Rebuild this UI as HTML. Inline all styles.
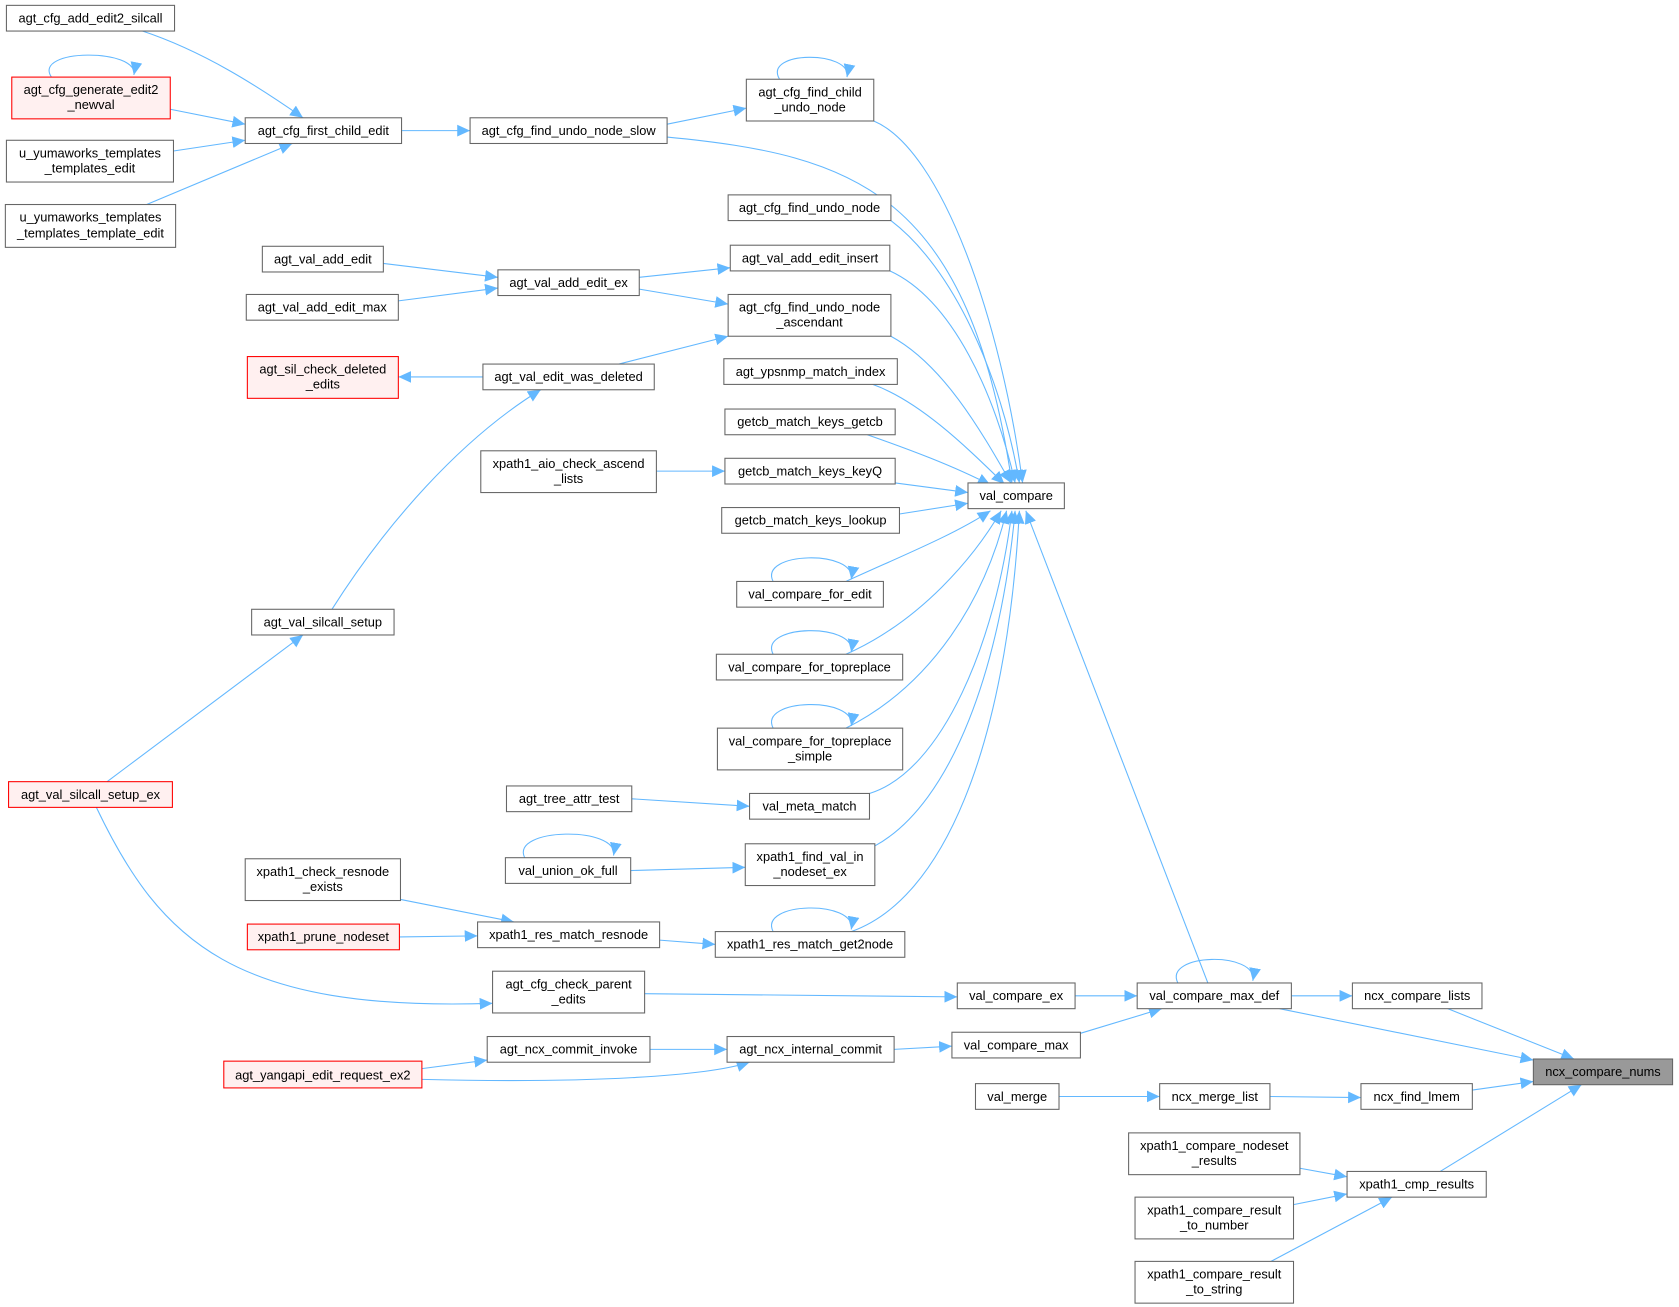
<!DOCTYPE html>
<html><head><meta charset="utf-8"><style>html,body{margin:0;padding:0;background:#fff}svg{display:block}</style></head><body>
<svg width="1679" height="1307" viewBox="0 0 1568 1220.6" xmlns="http://www.w3.org/2000/svg" font-family="Liberation Sans, Arial, sans-serif" font-size="12">
<defs><marker id="a" markerUnits="userSpaceOnUse" markerWidth="13" markerHeight="11" refX="12" refY="5.5" orient="auto"><path d="M0,0 L12,5.5 L0,11 z" fill="#63b8ff"/></marker></defs>
<g fill="none" stroke="#63b8ff" stroke-width="1" marker-end="url(#a)">
<path d="M133,29 C190,48 240,80 283,110"/>
<path d="M159,102 L229,116"/>
<path d="M162,141 L229,131"/>
<path d="M137,191 L273,134"/>
<path d="M48,72 C30,45 130,45 125,70"/>
<path d="M375,122 L439,122"/>
<path d="M623,116 L697,101"/>
<path d="M623,128 C800,145 905,180 945,451"/>
<path d="M728,74 C712,47 796,47 791,72"/>
<path d="M816,113 C880,140 935,300 955,451"/>
<path d="M832,206 C890,250 935,350 952,451"/>
<path d="M831,253 C890,280 930,370 948,451"/>
<path d="M832,314 C880,340 915,400 944,451"/>
<path d="M815,359 C860,375 905,420 938,452"/>
<path d="M810,406 C850,420 890,435 925,453"/>
<path d="M836,451 L904,460"/>
<path d="M840,480 L904,470"/>
<path d="M358,246 L465,259"/>
<path d="M372,281 L465,269"/>
<path d="M597,259 L682,250"/>
<path d="M597,270 L680,284"/>
<path d="M578,340 L680,314"/>
<path d="M451,352 L372,352"/>
<path d="M310,569 C360,490 430,410 505,364"/>
<path d="M100,730 L283,593"/>
<path d="M90,754 C150,880 220,945 460,937"/>
<path d="M613,440 L677,440"/>
<path d="M790,543 C840,520 890,500 925,477"/>
<path d="M722,543 C708,515 800,513 795,541"/>
<path d="M790,611 C860,580 910,520 935,477"/>
<path d="M722,611 C708,583 800,581 795,609"/>
<path d="M790,680 C870,640 920,560 940,477"/>
<path d="M722,680 C708,652 800,650 795,678"/>
<path d="M812,741 C880,720 930,600 945,477"/>
<path d="M817,790 C890,750 935,620 948,477"/>
<path d="M795,870 C880,840 940,700 952,477"/>
<path d="M722,870 C708,842 800,840 795,868"/>
<path d="M1128,918 L958,477"/>
<path d="M590,746 L700,753"/>
<path d="M589,813 L696,810"/>
<path d="M490,801 C476,773 578,771 573,799"/>
<path d="M374,840 L480,861"/>
<path d="M373,875 L446,874"/>
<path d="M616,878 L668,882"/>
<path d="M602,928 L894,931"/>
<path d="M1004,930 L1062,930"/>
<path d="M1100,918 C1086,890 1175,888 1170,916"/>
<path d="M1206,930 L1263,930"/>
<path d="M1195,942 L1432,990"/>
<path d="M1352,942 L1470,989"/>
<path d="M1009,965 L1085,942"/>
<path d="M835,980 L889,977"/>
<path d="M607,980 L679,980"/>
<path d="M394,998 L455,990"/>
<path d="M394,1008 C550,1012 660,1005 700,992"/>
<path d="M989,1024 L1083,1024"/>
<path d="M1186,1024 L1271,1025"/>
<path d="M1375,1018 L1432,1010"/>
<path d="M1345,1094 L1477,1013"/>
<path d="M1214,1091 L1258,1099"/>
<path d="M1208,1125 L1258,1115"/>
<path d="M1187,1178 L1300,1118"/>
</g>
<g stroke="#666" stroke-width="1" fill="#fff">
<rect x="6" y="5" width="157" height="24"/>
<rect x="11" y="72" width="148" height="39" fill="#fff0f0" stroke="#ff0000"/>
<rect x="6" y="131" width="156" height="39"/>
<rect x="5" y="191" width="159" height="40"/>
<rect x="229" y="110" width="146" height="24"/>
<rect x="439" y="110" width="184" height="24"/>
<rect x="697" y="74" width="119" height="39"/>
<rect x="680" y="182" width="152" height="24"/>
<rect x="245" y="230" width="113" height="24"/>
<rect x="230" y="275" width="142" height="24"/>
<rect x="465" y="252" width="132" height="24"/>
<rect x="682" y="229" width="149" height="24"/>
<rect x="680" y="275" width="152" height="39"/>
<rect x="231" y="333" width="141" height="39" fill="#fff0f0" stroke="#ff0000"/>
<rect x="451" y="340" width="160" height="24"/>
<rect x="676" y="335" width="162" height="24"/>
<rect x="677" y="382" width="159" height="24"/>
<rect x="449" y="421" width="164" height="39"/>
<rect x="677" y="428" width="159" height="24"/>
<rect x="674" y="474" width="166" height="24"/>
<rect x="904" y="451" width="90" height="24"/>
<rect x="688" y="543" width="137" height="24"/>
<rect x="669" y="611" width="174" height="24"/>
<rect x="670" y="680" width="173" height="39"/>
<rect x="235" y="569" width="133" height="24"/>
<rect x="8" y="730" width="153" height="24" fill="#fff0f0" stroke="#ff0000"/>
<rect x="473" y="734" width="117" height="24"/>
<rect x="700" y="741" width="112" height="24"/>
<rect x="472" y="801" width="117" height="24"/>
<rect x="696" y="788" width="121" height="39"/>
<rect x="229" y="802" width="145" height="39"/>
<rect x="231" y="863" width="142" height="24" fill="#fff0f0" stroke="#ff0000"/>
<rect x="446" y="861" width="170" height="24"/>
<rect x="668" y="870" width="177" height="24"/>
<rect x="460" y="907" width="142" height="39"/>
<rect x="894" y="918" width="110" height="24"/>
<rect x="1062" y="918" width="144" height="24"/>
<rect x="1263" y="918" width="121" height="24"/>
<rect x="455" y="968" width="152" height="24"/>
<rect x="679" y="968" width="156" height="24"/>
<rect x="889" y="964" width="120" height="24"/>
<rect x="209" y="991" width="185" height="25" fill="#fff0f0" stroke="#ff0000"/>
<rect x="1432" y="989" width="130" height="24" fill="#999"/>
<rect x="911" y="1012" width="78" height="24"/>
<rect x="1083" y="1012" width="103" height="24"/>
<rect x="1271" y="1012" width="104" height="24"/>
<rect x="1054" y="1058" width="160" height="39"/>
<rect x="1258" y="1094" width="130" height="24"/>
<rect x="1060" y="1118" width="148" height="39"/>
<rect x="1060" y="1178" width="148" height="39"/>
</g>
<g fill="#000" text-anchor="middle">
<text x="84.5" y="21">agt_cfg_add_edit2_silcall</text>
<text x="85" y="88">agt_cfg_generate_edit2</text><text x="85" y="102">_newval</text>
<text x="84" y="147">u_yumaworks_templates</text><text x="84" y="161">_templates_edit</text>
<text x="84.5" y="207">u_yumaworks_templates</text><text x="84.5" y="222">_templates_template_edit</text>
<text x="302" y="126">agt_cfg_first_child_edit</text>
<text x="531" y="126">agt_cfg_find_undo_node_slow</text>
<text x="756.5" y="90">agt_cfg_find_child</text><text x="756.5" y="104">_undo_node</text>
<text x="756" y="198">agt_cfg_find_undo_node</text>
<text x="301.5" y="246">agt_val_add_edit</text>
<text x="301" y="291">agt_val_add_edit_max</text>
<text x="531" y="268">agt_val_add_edit_ex</text>
<text x="756.5" y="245">agt_val_add_edit_insert</text>
<text x="756" y="291">agt_cfg_find_undo_node</text><text x="756" y="305">_ascendant</text>
<text x="301.5" y="349">agt_sil_check_deleted</text><text x="301.5" y="363">_edits</text>
<text x="531" y="356">agt_val_edit_was_deleted</text>
<text x="757" y="351">agt_ypsnmp_match_index</text>
<text x="756.5" y="398">getcb_match_keys_getcb</text>
<text x="531" y="437">xpath1_aio_check_ascend</text><text x="531" y="451">_lists</text>
<text x="756.5" y="444">getcb_match_keys_keyQ</text>
<text x="757" y="490">getcb_match_keys_lookup</text>
<text x="949" y="467">val_compare</text>
<text x="756.5" y="559">val_compare_for_edit</text>
<text x="756" y="627">val_compare_for_topreplace</text>
<text x="756.5" y="696">val_compare_for_topreplace</text><text x="756.5" y="710">_simple</text>
<text x="301.5" y="585">agt_val_silcall_setup</text>
<text x="84.5" y="746">agt_val_silcall_setup_ex</text>
<text x="531.5" y="750">agt_tree_attr_test</text>
<text x="756" y="757">val_meta_match</text>
<text x="530.5" y="817">val_union_ok_full</text>
<text x="756.5" y="804">xpath1_find_val_in</text><text x="756.5" y="818">_nodeset_ex</text>
<text x="301.5" y="818">xpath1_check_resnode</text><text x="301.5" y="832">_exists</text>
<text x="302" y="879">xpath1_prune_nodeset</text>
<text x="531" y="877">xpath1_res_match_resnode</text>
<text x="756.5" y="886">xpath1_res_match_get2node</text>
<text x="531" y="923">agt_cfg_check_parent</text><text x="531" y="937">_edits</text>
<text x="949" y="934">val_compare_ex</text>
<text x="1134" y="934">val_compare_max_def</text>
<text x="1323.5" y="934">ncx_compare_lists</text>
<text x="531" y="984">agt_ncx_commit_invoke</text>
<text x="757" y="984">agt_ncx_internal_commit</text>
<text x="949" y="980">val_compare_max</text>
<text x="301.5" y="1008">agt_yangapi_edit_request_ex2</text>
<text x="1497" y="1005">ncx_compare_nums</text>
<text x="950" y="1028">val_merge</text>
<text x="1134.5" y="1028">ncx_merge_list</text>
<text x="1323" y="1028">ncx_find_lmem</text>
<text x="1134" y="1074">xpath1_compare_nodeset</text><text x="1134" y="1088">_results</text>
<text x="1323" y="1110">xpath1_cmp_results</text>
<text x="1134" y="1134">xpath1_compare_result</text><text x="1134" y="1148">_to_number</text>
<text x="1134" y="1194">xpath1_compare_result</text><text x="1134" y="1208">_to_string</text>
</g>
</svg>
</body></html>
